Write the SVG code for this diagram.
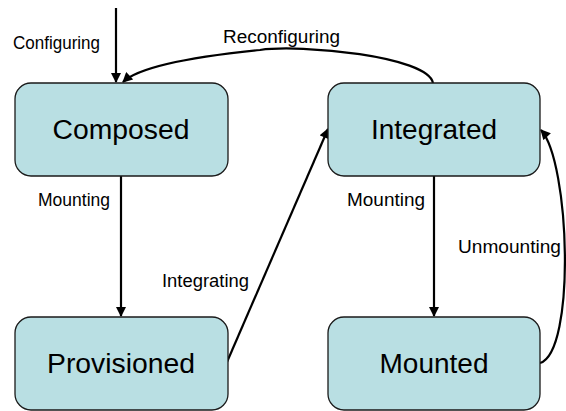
<svg xmlns="http://www.w3.org/2000/svg" width="566" height="411" viewBox="0 0 566 411">
<style>
.node rect{fill:#B9DFE3;stroke:#1a1a1a;stroke-width:1.3}
.nt{font-family:"Liberation Sans",Arial,sans-serif;font-size:27px;fill:#000;text-anchor:middle}
.lb{font-family:"Liberation Sans",Arial,sans-serif;font-size:17.5px;fill:#000}
.edge{fill:none;stroke:#000;stroke-width:2.2;marker-end:url(#ah)}
</style>
<defs>
<marker id="ah" viewBox="0 0 10 10" refX="9" refY="5" markerWidth="5" markerHeight="4.6" markerUnits="strokeWidth" orient="auto">
<path d="M0,0 L10,5 L0,10 z" fill="#000"/>
</marker>
</defs>
<rect width="566" height="411" fill="#fff"/>
<g id="connectors">
<path class="edge" d="M116,8 L116,82"/>
<path class="edge" d="M433,83 C428,56 300,44 260,50 C200,56 140,66 123,82"/>
<path class="edge" d="M121,176 L121,316"/>
<path class="edge" d="M434,176 L434,316"/>
<path class="edge" d="M227,362 L328,129"/>
<path class="edge" d="M540,363 C576,352 570,162 541,130"/>
<text class="lb" x="13" y="49" textLength="87" lengthAdjust="spacingAndGlyphs">Configuring</text>
<text class="lb" x="223" y="43" textLength="117" lengthAdjust="spacingAndGlyphs">Reconfiguring</text>
<text class="lb" x="38" y="206" textLength="72" lengthAdjust="spacingAndGlyphs">Mounting</text>
<text class="lb" x="347" y="206" textLength="78" lengthAdjust="spacingAndGlyphs">Mounting</text>
<text class="lb" x="162" y="287" textLength="87" lengthAdjust="spacingAndGlyphs">Integrating</text>
<text class="lb" x="458" y="253" textLength="103" lengthAdjust="spacingAndGlyphs">Unmounting</text>
</g>
<g id="composed" class="node">
<rect x="15" y="83" width="213" height="93" rx="16"/>
<text class="nt" x="121" y="139" textLength="137" lengthAdjust="spacingAndGlyphs">Composed</text>
</g>
<g id="integrated" class="node">
<rect x="328" y="83" width="212" height="93" rx="16"/>
<text class="nt" x="434" y="139" textLength="126" lengthAdjust="spacingAndGlyphs">Integrated</text>
</g>
<g id="provisioned" class="node">
<rect x="15" y="317" width="213" height="93" rx="16"/>
<text class="nt" x="121" y="373" textLength="148" lengthAdjust="spacingAndGlyphs">Provisioned</text>
</g>
<g id="mounted" class="node">
<rect x="328" y="317" width="212" height="93" rx="16"/>
<text class="nt" x="434" y="373" textLength="109" lengthAdjust="spacingAndGlyphs">Mounted</text>
</g>
</svg>
